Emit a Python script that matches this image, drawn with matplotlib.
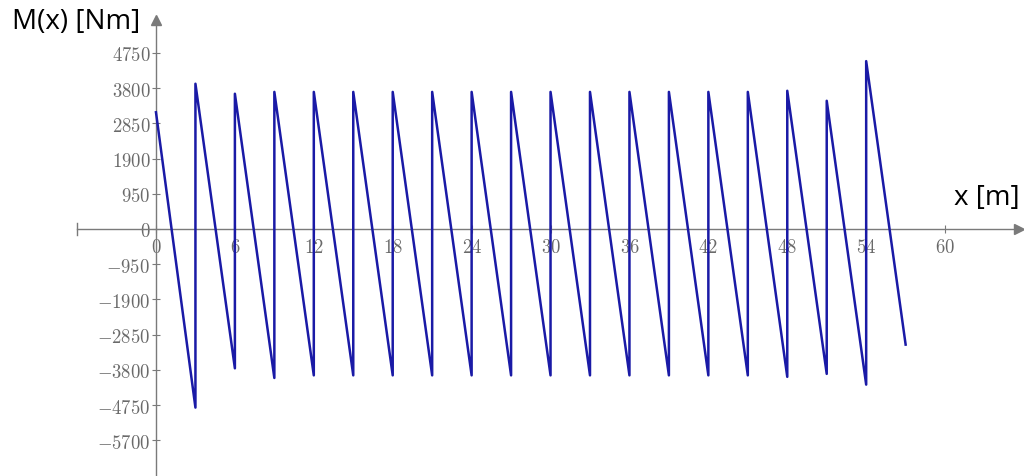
import numpy as np
import matplotlib.pyplot as plt

# Biegemoment-Verlauf (Sägezahn)
x_start = 0
m_start = 3150
x_jump = [3, 6, 9, 12, 15, 18, 21, 24, 27, 30, 33, 36, 39, 42, 45, 48, 51, 54]
m_low = [-4820, -3760, -4020, -3950, -3950, -3950, -3950, -3950, -3950,
         -3950, -3950, -3950, -3950, -3950, -3950, -3990, -3910, -4200]
m_high = [3920, 3650, 3700, 3700, 3700, 3700, 3700, 3700, 3700,
          3700, 3700, 3700, 3700, 3700, 3700, 3730, 3460, 4530]
x_end = 57
m_end = -3120

x_ticks = [0, 6, 12, 18, 24, 30, 36, 42, 48, 54, 60]
y_ticks = [-5700, -4750, -3800, -2850, -1900, -950, 0, 950, 1900, 2850, 3800, 4750]

x_pts = [x_start]
m_pts = [m_start]
for xj, lo, hi in zip(x_jump, m_low, m_high):
    x_pts += [xj, xj]
    m_pts += [lo, hi]
x_pts.append(x_end)
m_pts.append(m_end)

plt.rcParams['mathtext.fontset'] = 'cm'
grey = '#7a7a7a'

fig = plt.figure(figsize=(10.24, 4.77), dpi=100)
ax = fig.add_axes([0, 0, 1, 1])
ax.set_xlim(-11.86, 66.0)
ax.set_ylim(-6666, 6207)

ax.plot(x_pts, m_pts, c='#1a1aa6', lw=1.8, zorder=3)

for s in ['top', 'right']:
    ax.spines[s].set_visible(False)
ax.spines['left'].set_position(('data', 0))
ax.spines['bottom'].set_position(('data', 0))
ax.spines['left'].set_bounds(-6700, 5600)
ax.spines['bottom'].set_bounds(-6, 65.3)
for s in ['left', 'bottom']:
    ax.spines[s].set_color(grey)
    ax.spines[s].set_linewidth(1.0)

# Pfeilspitzen und Endstrich
ax.plot(65.6, 0, '>', c=grey, ms=7, clip_on=False)
ax.plot(0, 5650, '^', c=grey, ms=7, clip_on=False)
ax.plot([-6, -6], [-170, 170], c=grey, lw=1.0)

ax.set_xticks(x_ticks)
ax.set_yticks(y_ticks)
ax.set_xticklabels(['$%d$' % v for v in x_ticks])
ax.set_yticklabels(['$%d$' % v for v in y_ticks])
ax.tick_params(axis='both', colors=grey, labelcolor='#6a6a6a', labelsize=13.5,
               direction='inout', length=6, width=0.8)
ax.tick_params(axis='x', pad=3)
ax.tick_params(axis='y', pad=1)

fig.text(12 / 1024, 1 - 22 / 477, 'M(x) [Nm]', fontsize=20, family='Open Sans',
         va='center', ha='left')
fig.text(1020 / 1024, 1 - 198 / 477, 'x [m]', fontsize=20, family='Open Sans',
         va='center', ha='right')

fig.savefig('out.png', dpi=100)
